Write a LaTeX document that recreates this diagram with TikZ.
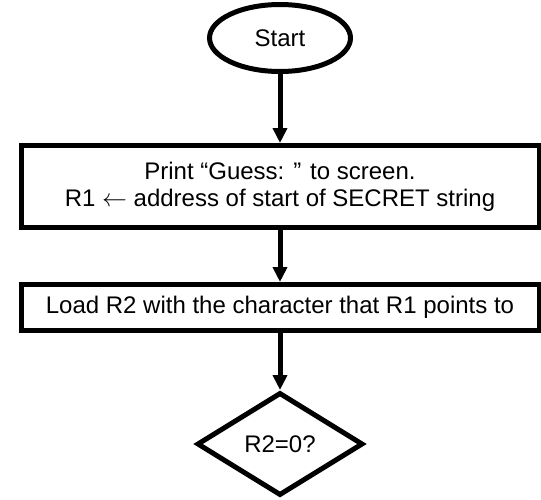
\documentclass[tikz,border=0pt]{standalone}
\usepackage{fontspec}
\setmainfont{Liberation Sans}
\usetikzlibrary{shapes.geometric, arrows.meta, positioning}

\begin{document}
\begin{tikzpicture}[->,>={Triangle[length=15pt,width=14pt]},line width=5pt,
	term node/.style={ellipse, minimum width=141pt, minimum height=67pt, inner sep=0pt, draw=black, font=\fontsize{24}{27}\selectfont},
	process node/.style={rectangle, minimum width=518pt, inner sep=0pt, text centered, align=center, draw=black, font=\fontsize{24}{27}\selectfont},
	decision node/.style={diamond, minimum width=166pt, minimum height=103pt, inner sep=0pt, draw=black, font=\fontsize{24}{27}\selectfont}]
	
	\useasboundingbox (0,0) rectangle (541pt,-499pt);
	
	\node[term node] (start) at (280pt,-38pt) {Start};
	
	\node[process node,minimum height=82pt] (print) [below=69pt of start] {Print “Guess: ” to screen.\\R1 $\leftarrow$ address of start of SECRET string};
	\node[process node,minimum height=46pt] (load) [below=52pt of print] {Load R2 with the character that R1 points to};
	
	\node[decision node] (test) [below=57pt of load] {R2=0?};
	
	\path
	(start) edge (print)
	(print) edge (load)
	(load) edge (test);
	\end{tikzpicture}
\end{document}
